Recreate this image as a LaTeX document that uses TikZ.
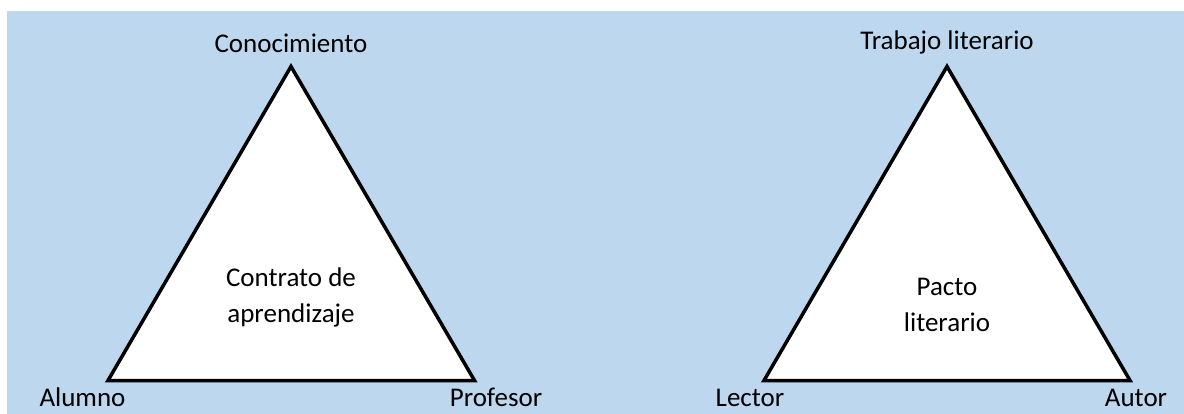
\documentclass[tikz,border=0pt]{standalone}
\usepackage{fontspec}
\setmainfont{Carlito}
\definecolor{bgblue}{HTML}{BDD7EE}
\begin{document}
\begin{tikzpicture}[x=1pt,y=-1pt,
  lbl/.style={font=\fontsize{27}{36}\selectfont, inner sep=0pt, anchor=base, text=black},
  mid/.style={lbl, align=center},
  tri/.style={draw=black, fill=white, line width=3.5pt, line join=miter}]
\useasboundingbox (0,0) rectangle (1184,414);
\fill[bgblue] (7,11) rectangle (1184,414);
% left triangle
\coordinate (A1) at (291,66.5);
\coordinate (B1) at (108,380.5);
\coordinate (C1) at (474.5,380.5);
\draw[tri] (A1) -- (B1) -- (C1) -- cycle;
\node[lbl] (con) at (291,53) {Conocimiento};
\node[lbl] (alu) at (82.5,406) {Alumno};
\node[lbl] (pro) at (496,406) {Profesor};
\node[mid] (ctr) at (291,323) {Contrato de\\aprendizaje};
% right triangle
\coordinate (A2) at (947,66.5);
\coordinate (B2) at (764,380.5);
\coordinate (C2) at (1130,380.5);
\draw[tri] (A2) -- (B2) -- (C2) -- cycle;
\node[lbl] (tra) at (947,50) {Trabajo literario};
\node[lbl] (lec) at (750,406) {Lector};
\node[lbl] (aut) at (1136,406) {Autor};
\node[mid] (pac) at (947,331) {Pacto\\literario};
\end{tikzpicture}
\end{document}
